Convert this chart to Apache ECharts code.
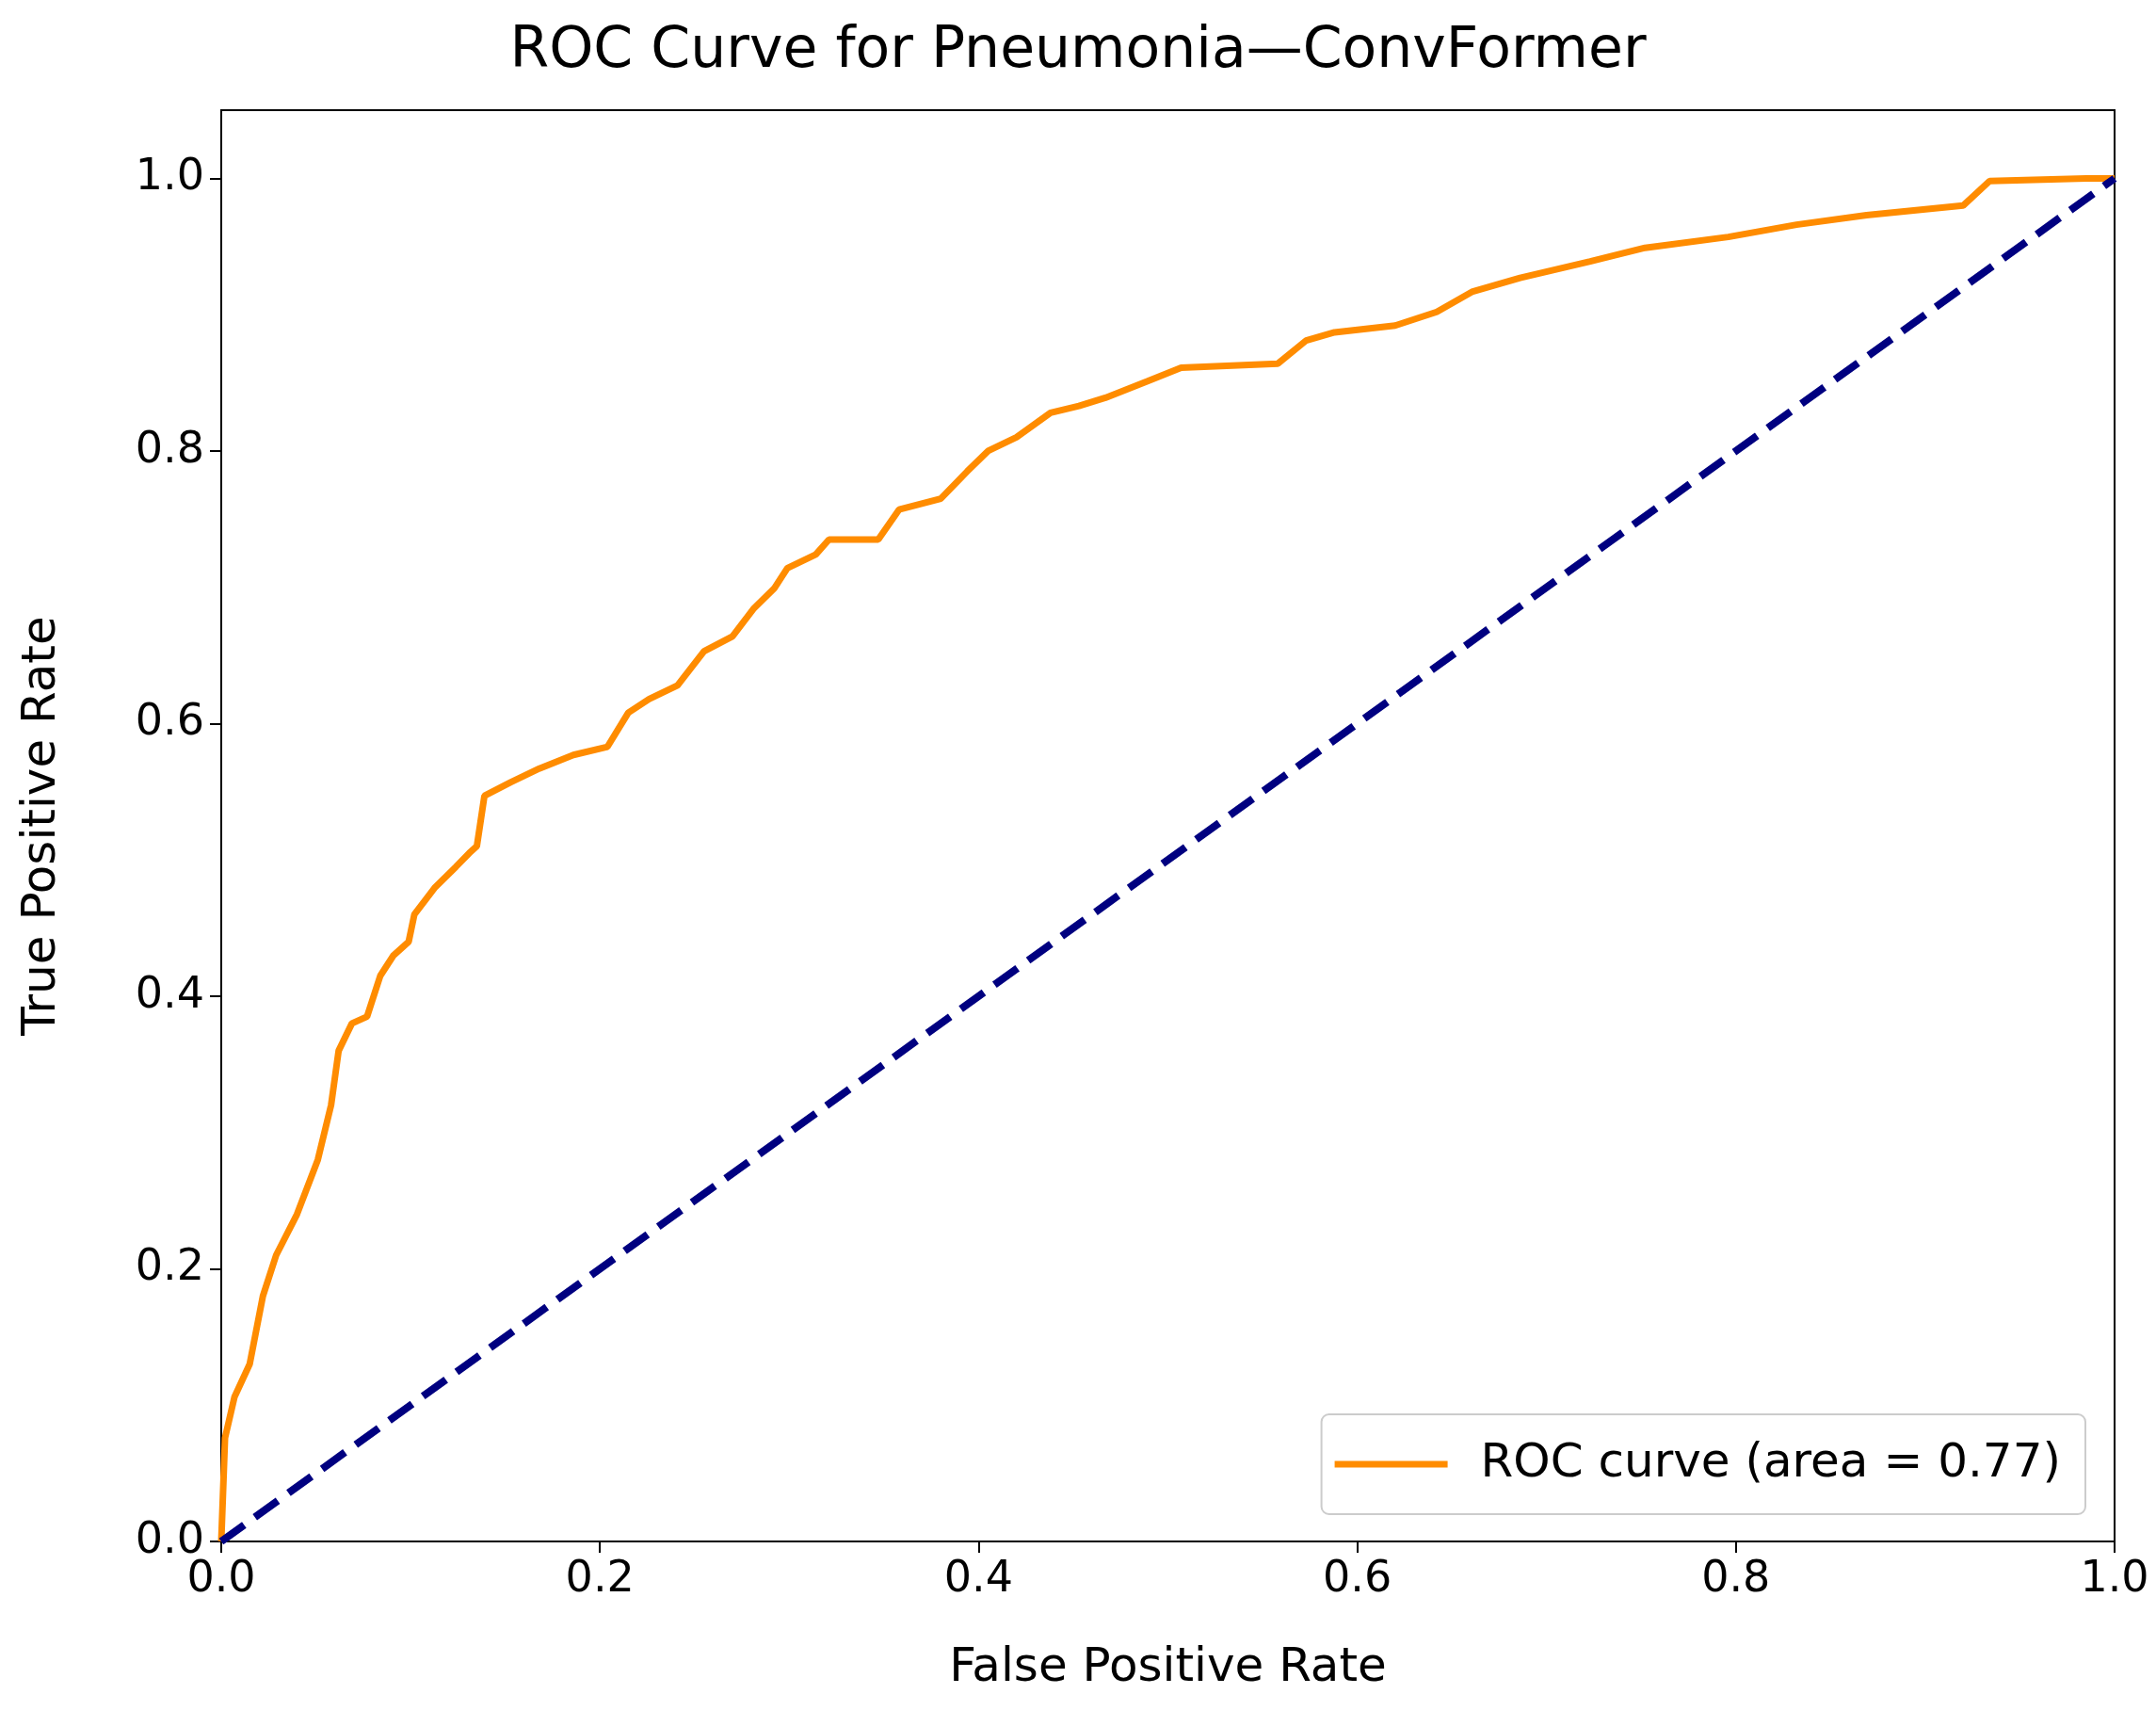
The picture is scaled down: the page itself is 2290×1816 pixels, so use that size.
<!DOCTYPE html>
<html lang="en">
  <head>
    <meta charset="UTF-8" />
    <title>ROC Curve for Pneumonia—ConvFormer</title>
    <script src="https://cdn.jsdelivr.net/npm/echarts@6/dist/echarts.min.js"></script>
    <style>
      html, body { margin: 0; background: #fff; }
      #chart { width: 2290px; height: 1816px; }
    </style>
  </head>
  <body>
    <div id="chart"></div>
    <script>
      // ROC points
      const fpr = [0, 0.002, 0.007, 0.015, 0.022, 0.029, 0.040, 0.051, 0.058, 0.062, 0.069, 0.077,
        0.084, 0.091, 0.099, 0.102, 0.113, 0.124, 0.131, 0.135, 0.139, 0.153, 0.168, 0.186, 0.204,
        0.215, 0.226, 0.241, 0.255, 0.270, 0.281, 0.292, 0.299, 0.314, 0.321, 0.347, 0.358, 0.380,
        0.394, 0.405, 0.420, 0.438, 0.453, 0.467, 0.489, 0.507, 0.558, 0.573, 0.588, 0.620, 0.642,
        0.661, 0.686, 0.723, 0.752, 0.796, 0.832, 0.869, 0.920, 0.934, 0.985, 1.0];
      const tpr = [0, 0.076, 0.106, 0.13, 0.18, 0.21, 0.24, 0.28, 0.32, 0.36, 0.38, 0.385,
        0.415, 0.43, 0.44, 0.46, 0.48, 0.495, 0.505, 0.51, 0.547, 0.557, 0.567, 0.577, 0.583,
        0.608, 0.618, 0.628, 0.653, 0.664, 0.684, 0.699, 0.714, 0.724, 0.735, 0.735, 0.757, 0.765,
        0.785, 0.8, 0.81, 0.828, 0.833, 0.839, 0.851, 0.861, 0.864, 0.881, 0.887, 0.892, 0.902,
        0.917, 0.927, 0.939, 0.949, 0.957, 0.966, 0.973, 0.98, 0.998, 1.0, 1.0];
      const chanceLine = [[0, 0], [1, 1]];
      const yTicks = [0, 0.2, 0.4, 0.6, 0.8, 1.0];
      const legendLabel = "ROC curve (area = 0.77)";

      const font = "DejaVu Sans";
      const chart = echarts.init(document.getElementById("chart"));

      chart.setOption({
        animation: false,
        title: {
          text: "ROC Curve for Pneumonia—ConvFormer",
          left: "center",
          top: 20,
          textStyle: { fontFamily: font, fontSize: 60, fontWeight: "normal", color: "#000" },
        },
        grid: {
          left: 235, right: 44, top: 117, bottom: 179,
          show: true, borderColor: "#000", borderWidth: 2,
        },
        legend: {
          data: [legendLabel],
          right: 75, bottom: 208,
          orient: "vertical",
          padding: [28, 26, 28, 14],
          borderColor: "#ccc", borderWidth: 2, borderRadius: 8,
          itemWidth: 120, itemHeight: 7,
          textStyle: { fontFamily: font, fontSize: 50, color: "#000", padding: [0, 0, 0, 30] },
          icon: "rect",
        },
        xAxis: {
          type: "value", min: 0, max: 1, interval: 0.2,
          name: "False Positive Rate", nameLocation: "middle", nameGap: 110,
          nameTextStyle: { fontFamily: font, fontSize: 50, color: "#000" },
          axisLine: { lineStyle: { color: "#000", width: 2 } },
          axisTick: { length: 12, lineStyle: { color: "#000", width: 2 } },
          axisLabel: { fontFamily: font, fontSize: 46, color: "#000", margin: 18,
            formatter: (v) => v.toFixed(1) },
          splitLine: { show: false },
        },
        yAxis: {
          type: "value", min: 0, max: 1.05, interval: 0.2,
          name: "True Positive Rate", nameLocation: "middle", nameGap: 165,
          nameTextStyle: { fontFamily: font, fontSize: 50, color: "#000" },
          axisLine: { lineStyle: { color: "#000", width: 2 } },
          axisTick: { length: 12, customValues: yTicks, lineStyle: { color: "#000", width: 2 } },
          axisLabel: { fontFamily: font, fontSize: 46, color: "#000", margin: 18,
            customValues: yTicks, formatter: (v) => v.toFixed(1) },
          splitLine: { show: false },
        },
        series: [
          {
            name: legendLabel,
            type: "line",
            data: fpr.map((x, i) => [x, tpr[i]]),
            showSymbol: false,
            lineStyle: { color: "#ff8c00", width: 7 },
            itemStyle: { color: "#ff8c00" },
          },
          {
            name: "chance",
            type: "line",
            data: chanceLine,
            showSymbol: false,
            lineStyle: { color: "#000080", width: 8, type: [30, 14] },
          },
        ],
      });
    </script>
  </body>
</html>
